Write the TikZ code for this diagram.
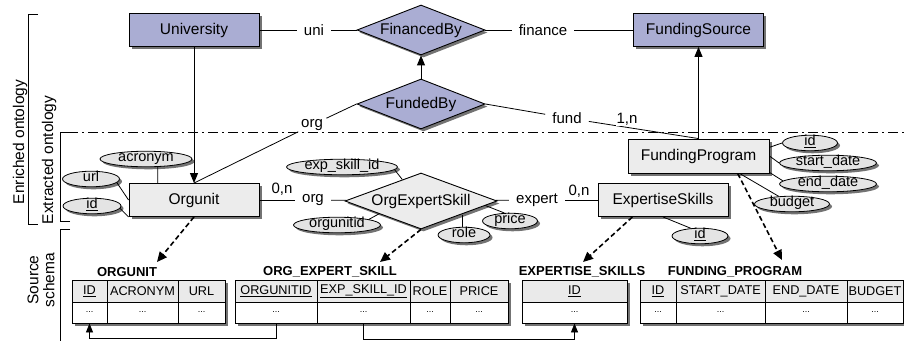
\documentclass[tikz,border=0pt]{standalone}
\usepackage{fontspec}
\setmainfont{Liberation Sans}
\usetikzlibrary{shapes.geometric,shadows,arrows.meta}
\definecolor{lav}{RGB}{170,173,211}
\definecolor{entgray}{RGB}{236,236,236}
\definecolor{attgray}{RGB}{228,228,228}
\definecolor{hdrgray}{RGB}{234,234,234}

\begin{document}
\begin{tikzpicture}[x=1pt,y=-1pt,
    shad/.style={drop shadow={shadow xshift=2.5pt,shadow yshift=-2.5pt,opacity=.55,fill=black}},
    ent/.style={draw,line width=.9pt,fill=entgray,shad,minimum width=130pt,minimum height=33pt,inner sep=0pt,font=\fontsize{15.5}{18}\selectfont},
    entb/.style={ent,fill=lav},
    rel/.style={diamond,draw,line width=.9pt,fill=entgray,shad,aspect=2.6,inner sep=0pt,font=\fontsize{15.5}{18}\selectfont},
    relb/.style={rel,fill=lav,minimum width=128pt,minimum height=50pt},
    attr/.style={ellipse,draw,line width=.8pt,fill=attgray,shad,inner xsep=0pt,inner ysep=1pt,text height=7pt,text depth=2pt,font=\fontsize{14.5}{16}\selectfont},
    lbl/.style={fill=white,inner xsep=7pt,inner ysep=1pt,font=\fontsize{15}{18}\selectfont},
    card/.style={inner sep=1pt,font=\fontsize{15}{18}\selectfont},
    link/.style={line width=.8pt},
    isa/.style={line width=1pt,-{Triangle[length=10pt,width=8pt]}},
    map/.style={line width=1.6pt,dash pattern=on 5pt off 3pt,-{Triangle[length=10pt,width=9pt]}},
    fk/.style={line width=.8pt,-{Triangle[length=9pt,width=7pt]}},
    hcell/.style={draw,line width=.8pt,fill=hdrgray,minimum height=22pt,inner sep=0pt,font=\fontsize{12.7}{14}\selectfont},
    dcell/.style={draw,line width=.8pt,fill=white,minimum height=21pt,inner sep=0pt,font=\fontsize{9}{10}\selectfont},
    ttl/.style={inner sep=1pt,font=\fontsize{13}{15}\selectfont\bfseries}
]
        \useasboundingbox (0,0) rectangle (904,341);

        % Layer brackets
        \draw[line width=.8pt] (38,14) -- (28,14) -- (28,224) -- (38,224);
        \draw[line width=.8pt] (70,221) -- (60,221) -- (60,132) -- (68,132);
        \draw[line width=.8pt,dash pattern=on 10pt off 4pt on 2pt off 4pt] (68,132) -- (904,132);
        \draw[line width=.8pt] (70,229) -- (60,229) -- (60,341);
        \node[rotate=90,font=\fontsize{15.5}{18}\selectfont] (enr) at (20,142) {Enriched ontology};
        \node[rotate=90,font=\fontsize{15.5}{18}\selectfont] (ext) at (49,160) {Extracted ontology};
        \node[rotate=90,align=center,font=\fontsize{15.5}{16}\selectfont] (src) at (41,280) {Source\\schema};

        % Enriched ontology
        \node[entb] (univ) at (194,30) {University};
        \node[relb] (finby) at (421,30) {FinancedBy};
        \node[entb] (fsrc) at (698.5,30) {FundingSource};
        \node[relb] (fundby) at (421,104) {FundedBy};

        % Extracted ontology
        \node[ent] (orgunit) at (194,200) {Orgunit};
        \node[rel,minimum width=152pt,minimum height=56pt] (oes) at (421,201) {OrgExpertSkill};
        \node[ent] (exps) at (663,200) {ExpertiseSkills};
        \node[ent,minimum width=141pt,minimum height=34pt] (fprog) at (698.5,156) {FundingProgram};

        % Attributes
        \node[attr,minimum width=92pt] (acr) at (146,159) {acronym};
        \node[attr,minimum width=57pt] (url) at (91,179) {url};
        \node[attr,minimum width=58pt] (oid) at (92,206) {\underline{id}};
        \node[attr,minimum width=111pt] (esid) at (342,167) {exp\_skill\_id};
        \node[attr,minimum width=87pt] (ouid) at (337,225) {orgunitid};
        \node[attr,minimum width=52pt] (role) at (464,235) {role};
        \node[attr,minimum width=55pt] (price) at (510,221) {price};
        \node[attr,minimum width=56pt] (eid) at (700,236) {\underline{id}};
        \node[attr,minimum width=55pt] (fid) at (810,143) {\underline{id}};
        \node[attr,minimum width=97pt] (sdate) at (828,163) {start\_date};
        \node[attr,minimum width=97pt] (edate) at (828,184) {end\_date};
        \node[attr,minimum width=75pt] (budget) at (792,204) {budget};

        % Role names
        \node[lbl] (uni) at (314,30) {uni};
        \node[lbl] (fin) at (543,30) {finance};
        \node[lbl] (orgU) at (312,125) {org};
        \node[lbl] (fund) at (567,118) {fund};
        \node[lbl] (orgL) at (313,200) {org};
        \node[lbl] (expert) at (537,200) {expert};
        \node[card] (c1) at (282,189) {0,n};
        \node[card] (c2) at (579,191) {0,n};

        \draw[link] (univ) -- (uni);
        \draw[link] (uni) -- (finby);
        \draw[link] (finby) -- (fin);
        \draw[link] (fin) -- (fsrc);
        \draw[isa] (fundby) -- (finby);
        \draw[isa] (univ) -- (orgunit);
        \draw[isa] (fprog) -- (fsrc);
        \draw[link] (fundby.west) -- (orgU);
        \draw[link] (orgU) -- (orgunit.north);
        \draw[link] (fundby.east) -- (fund);
        \draw[link] (fund) -- (fprog.north);
        \node[card,fill=white] (c3) at (627,119) {1,n};
        \draw[link] (orgunit) -- (orgL);
        \draw[link] (orgL) -- (oes);
        \draw[link] (oes) -- (expert);
        \draw[link] (expert) -- (exps);

        \draw[link] (acr.-34) -- (orgunit.155);
        \draw[link] (url.-8) -- (orgunit.west);
        \draw[link] (oid.-5) -- (orgunit.south west);
        \draw[link] (esid.-3) -- (oes.131);
        \draw[link] (ouid.10) -- (oes.197);
        \draw[link] (role.100) -- (role.100 |- oes.south east);
        \draw[link] (price.125) -- (oes.-4);
        \draw[link] (exps.south) -- (eid.140);
        \draw[link] (fprog.7) -- (fid.west);
        \draw[link] (fprog.east) -- (sdate.west);
        \draw[link] (fprog.-13) -- (edate.176);
        \draw[link] (fprog.-23) -- (budget.150);

        % Mappings to the source schema
        \coordinate (m1) at (157,262);
        \coordinate (m2) at (380,262);
        \coordinate (m3) at (583,262);
        \coordinate (m4) at (782,260);
        \draw[map] (orgunit.south) -- (m1);
        \draw[map] (oes.south) -- (m2);
        \draw[map] (exps.209) -- (m3);
        \draw[map] (fprog.-24) -- (m4);

        % ORGUNIT
        \node[ttl] (tou) at (127,272) {ORGUNIT};
        \fill[white,shad] (72,280) rectangle (225,323);
        \node[hcell,minimum width=35pt] (ou1) at (89.5,291) {\underline{ID}};
        \node[hcell,minimum width=71pt] (ou2) at (142.5,291) {ACRONYM};
        \node[hcell,minimum width=47pt] (ou3) at (201.5,291) {URL};
        \node[dcell,minimum width=35pt] (ou1d) at (89.5,312.5) {...};
        \node[dcell,minimum width=71pt] (ou2d) at (142.5,312.5) {...};
        \node[dcell,minimum width=47pt] (ou3d) at (201.5,312.5) {...};

        % ORG_EXPERT_SKILL
        \node[ttl] (toe) at (330,272) {ORG\_EXPERT\_SKILL};
        \fill[white,shad] (235,280) rectangle (508,323);
        \node[hcell,minimum width=82pt] (oe1) at (276,291) {\underline{ORGUNITID}};
        \node[hcell,minimum width=93pt] (oe2) at (363.5,291) {\underline{EXP\_SKILL\_ID}};
        \node[hcell,minimum width=40pt] (oe3) at (430,291) {ROLE};
        \node[hcell,minimum width=58pt] (oe4) at (479,291) {PRICE};
        \node[dcell,minimum width=82pt] (oe1d) at (276,312.5) {...};
        \node[dcell,minimum width=93pt] (oe2d) at (363.5,312.5) {...};
        \node[dcell,minimum width=40pt] (oe3d) at (430,312.5) {...};
        \node[dcell,minimum width=58pt] (oe4d) at (479,312.5) {...};

        % EXPERTISE_SKILLS
        \node[ttl] (tes) at (582,272) {EXPERTISE\_SKILLS};
        \fill[white,shad] (522,280) rectangle (627,323);
        \node[hcell,minimum width=105pt] (es1) at (574.5,291) {\underline{ID}};
        \node[dcell,minimum width=105pt] (es1d) at (574.5,312.5) {...};

        % FUNDING_PROGRAM
        \node[ttl] (tfp) at (735,272) {FUNDING\_PROGRAM};
        \fill[white,shad] (640,280) rectangle (903,323);
        \node[hcell,minimum width=36pt] (fp1) at (658,291) {\underline{ID}};
        \node[hcell,minimum width=89pt] (fp2) at (720.5,291) {START\_DATE};
        \node[hcell,minimum width=82pt] (fp3) at (806,291) {END\_DATE};
        \node[hcell,minimum width=56pt] (fp4) at (875,291) {BUDGET};
        \node[dcell,minimum width=36pt] (fp1d) at (658,312.5) {...};
        \node[dcell,minimum width=89pt] (fp2d) at (720.5,312.5) {...};
        \node[dcell,minimum width=82pt] (fp3d) at (806,312.5) {...};
        \node[dcell,minimum width=56pt] (fp4d) at (875,312.5) {...};

        % Foreign keys
        \draw[fk] (oe1d.south) -- ++(0,15) -| (ou1d.south);
        \draw[fk] (oe2d.south) -- ++(0,16) -| (es1d.south);
\end{tikzpicture}
\end{document}
